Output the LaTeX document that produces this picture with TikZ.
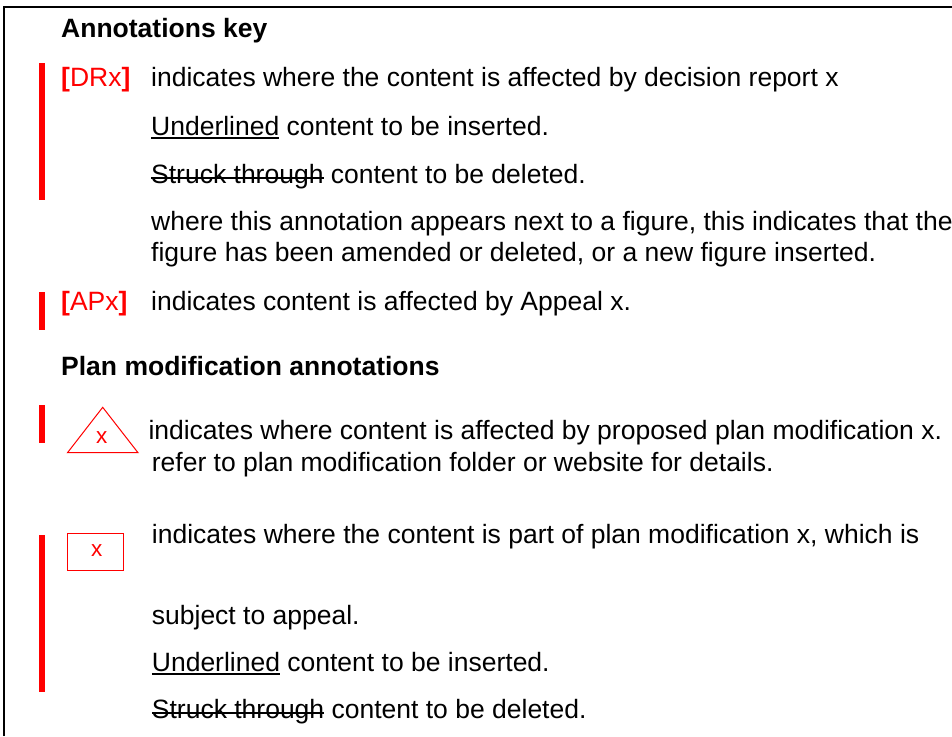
\documentclass[tikz,border=0pt]{standalone}
\usepackage{fontspec}
\setmainfont{Liberation Sans}
\newcommand\ulinetxt[1]{\setbox0=\hbox{#1}\rlap{\rule[-3.6pt]{\wd0}{1.9pt}}\box0\relax}
\newcommand\striketxt[1]{\setbox0=\hbox{#1}\rlap{\rule[4.7pt]{\wd0}{1.9pt}}\box0\relax}
\begin{document}
\begin{tikzpicture}[x=1pt,y=-1pt,
  txt/.style={anchor=base west, inner sep=0pt, font=\fontsize{26.5}{31.5}\selectfont},
  head/.style={txt, font=\fontsize{26.5}{31.5}\selectfont\bfseries},
  tag/.style={txt, text=red},
  pmx/.style={tag, anchor=base, font=\fontsize{22.5}{26}\selectfont},
  redbar/.style={fill=red, draw=none},
  frame/.style={draw=black, line width=2pt}
]
\useasboundingbox (0,0) rectangle (952,736);
\fill[white] (0,0) rectangle (952,736);
\draw[frame] (4.3,736) -- (4.3,6.8) -- (952,6.8);

% red change bars
\fill[redbar] (39,62.7) rectangle (45,200);
\fill[redbar] (39,292) rectangle (45,330);
\fill[redbar] (39,405) rectangle (45,443);
\fill[redbar] (39,535) rectangle (45,692);

\node[head] (h1) at (61,37.5) {Annotations key};
\node[tag] (dr) at (61,86.5) {{\bfseries[}DRx{\bfseries]}};
\node[txt] (t1) at (151,86.5) {indicates where the content is affected by decision report x};
\node[txt] (t2) at (151,135) {\ulinetxt{Underlined} content to be inserted.};
\node[txt] (t3) at (151,183.5) {\striketxt{Struck through} content to be deleted.};
\node[txt] (t4) at (151,230) {where this annotation appears next to a figure, this indicates that the};
\node[txt] (t5) at (151,261.7) {figure has been amended or deleted, or a new figure inserted.};
\node[tag] (ap) at (61,310) {{\bfseries[}APx{\bfseries]}};
\node[txt] (t6) at (151,310) {indicates content is affected by Appeal x.};

\node[head] (h2) at (61,375) {Plan modification annotations};
\draw[red, line width=1pt] (102.7,407.3) -- (138,452.7) -- (67.5,452.7) -- cycle;
\node[pmx] (tx) at (101.7,443.3) {x};
\node[txt] (t7) at (148.3,439.3) {indicates where content is affected by proposed plan modification x.};
\node[txt] (t8) at (151.7,471) {refer to plan modification folder or website for details.};

\draw[red, line width=1.5pt] (67.7,533.3) rectangle (123.3,570.7);
\node[pmx] (bx) at (96.7,556.7) {x};
\node[txt] (t9) at (151.7,543.3) {indicates where the content is part of plan modification x, which is};
\node[txt] (t10) at (151.7,624.3) {subject to appeal.};
\node[txt] (t11) at (151.7,671.7) {\ulinetxt{Underlined} content to be inserted.};
\node[txt] (t12) at (151.7,718.3) {\striketxt{Struck through} content to be deleted.};
\end{tikzpicture}
\end{document}
